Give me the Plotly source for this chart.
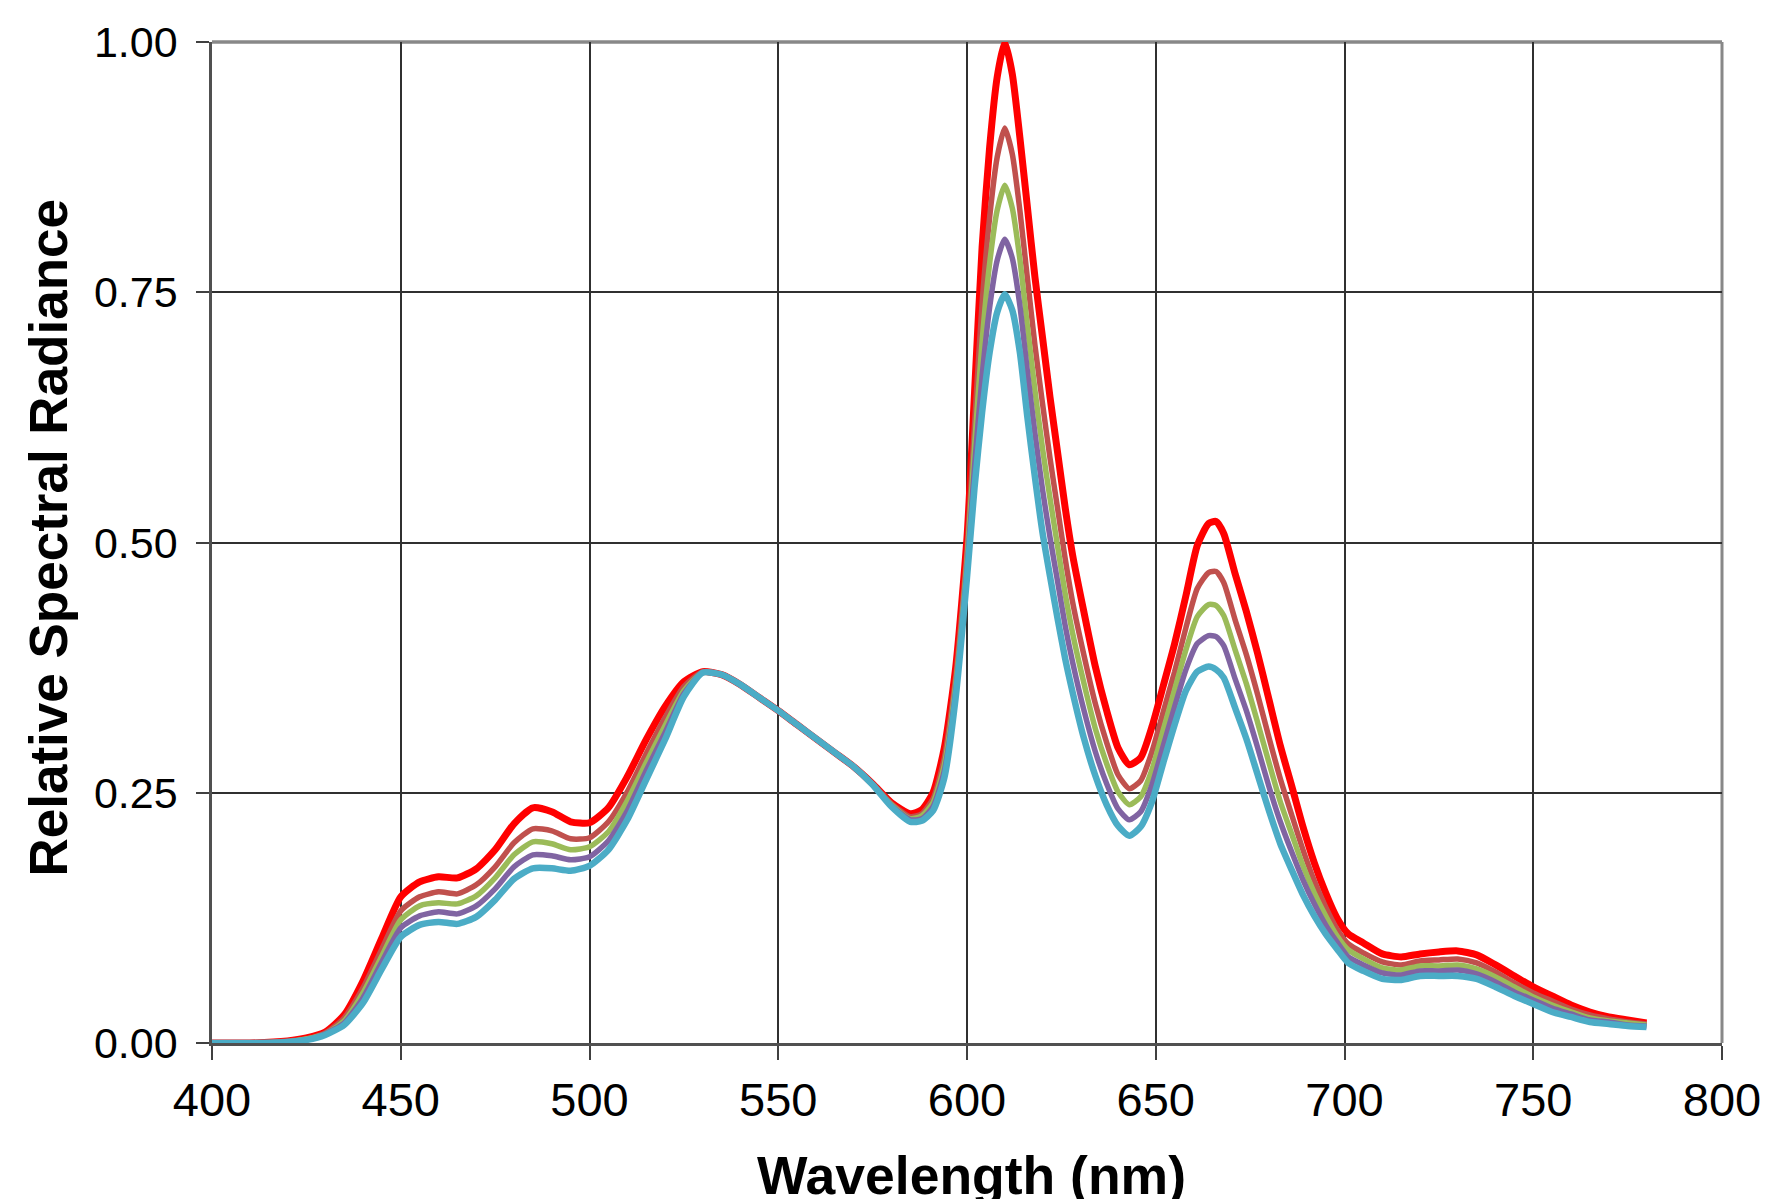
import plotly.graph_objects as go

wavelength = [400, 410, 420, 425, 430, 435, 440, 445, 450, 455, 460, 465, 470, 475, 480, 485, 490, 495,
              500, 505, 510, 515, 520, 525, 530, 535, 540, 545, 550, 555, 560, 565, 570, 575, 580, 585,
              588, 591, 594, 597, 600, 602, 604, 606, 608, 610, 612, 614, 616, 618, 620, 622, 624, 626,
              628, 631, 634, 637, 640, 643, 646, 649, 652, 655, 658, 661, 664, 666, 668, 671, 674, 677,
              680, 683, 686, 689, 692, 695, 698, 701, 705, 710, 715, 720, 725, 730, 735, 740, 745, 750,
              755, 760, 765, 770, 775, 780]

series_red = [0.000, 0.000, 0.002, 0.005, 0.011, 0.028, 0.062, 0.105, 0.146, 0.161, 0.166, 0.165, 0.174,
              0.193, 0.219, 0.235, 0.231, 0.221, 0.220, 0.235, 0.266, 0.303, 0.336, 0.361, 0.371, 0.368,
              0.358, 0.345, 0.332, 0.318, 0.304, 0.290, 0.276, 0.259, 0.240, 0.229, 0.233, 0.250, 0.295,
              0.375, 0.505, 0.650, 0.795, 0.895, 0.965, 1.000, 0.968, 0.905, 0.835, 0.765, 0.705, 0.645,
              0.590, 0.535, 0.487, 0.430, 0.376, 0.332, 0.295, 0.278, 0.285, 0.316, 0.357, 0.399, 0.447,
              0.497, 0.519, 0.521, 0.509, 0.469, 0.431, 0.389, 0.343, 0.297, 0.257, 0.216, 0.180, 0.150,
              0.125, 0.109, 0.100, 0.089, 0.086, 0.089, 0.091, 0.092, 0.088, 0.078, 0.067, 0.056, 0.047,
              0.038, 0.031, 0.026, 0.023, 0.020]

series_brown = [0.000, 0.000, 0.002, 0.004, 0.010, 0.025, 0.055, 0.094, 0.132, 0.146, 0.151, 0.149, 0.158,
                0.176, 0.200, 0.214, 0.212, 0.204, 0.205, 0.221, 0.251, 0.289, 0.325, 0.356, 0.371, 0.368,
                0.358, 0.345, 0.332, 0.318, 0.304, 0.290, 0.276, 0.259, 0.239, 0.226, 0.229, 0.244, 0.285,
                0.365, 0.491, 0.618, 0.739, 0.825, 0.885, 0.914, 0.888, 0.832, 0.764, 0.697, 0.639, 0.584,
                0.534, 0.484, 0.440, 0.387, 0.339, 0.300, 0.268, 0.254, 0.262, 0.291, 0.331, 0.371, 0.415,
                0.454, 0.470, 0.471, 0.460, 0.423, 0.388, 0.348, 0.305, 0.264, 0.228, 0.193, 0.162, 0.136,
                0.114, 0.099, 0.090, 0.081, 0.078, 0.082, 0.083, 0.084, 0.080, 0.071, 0.060, 0.050, 0.042,
                0.034, 0.028, 0.024, 0.021, 0.019]

series_green = [0.000, 0.000, 0.001, 0.004, 0.009, 0.022, 0.050, 0.087, 0.123, 0.137, 0.140, 0.139, 0.147,
                0.165, 0.188, 0.201, 0.199, 0.193, 0.196, 0.211, 0.242, 0.280, 0.317, 0.352, 0.370, 0.368,
                0.358, 0.345, 0.332, 0.318, 0.304, 0.290, 0.276, 0.258, 0.238, 0.224, 0.227, 0.240, 0.278,
                0.358, 0.482, 0.596, 0.701, 0.779, 0.832, 0.857, 0.834, 0.783, 0.716, 0.652, 0.594, 0.544,
                0.496, 0.449, 0.409, 0.359, 0.314, 0.279, 0.251, 0.238, 0.246, 0.273, 0.313, 0.353, 0.393,
                0.426, 0.438, 0.437, 0.427, 0.393, 0.359, 0.320, 0.280, 0.241, 0.209, 0.177, 0.150, 0.127,
                0.107, 0.093, 0.084, 0.075, 0.073, 0.077, 0.077, 0.078, 0.074, 0.066, 0.056, 0.046, 0.038,
                0.031, 0.025, 0.022, 0.020, 0.018]

series_purple = [0.000, 0.000, 0.001, 0.003, 0.009, 0.020, 0.045, 0.081, 0.115, 0.127, 0.131, 0.129, 0.137,
                 0.154, 0.176, 0.188, 0.187, 0.183, 0.186, 0.202, 0.232, 0.272, 0.310, 0.349, 0.370, 0.368,
                 0.358, 0.345, 0.332, 0.318, 0.304, 0.290, 0.276, 0.258, 0.237, 0.223, 0.224, 0.236, 0.272,
                 0.352, 0.474, 0.576, 0.666, 0.735, 0.782, 0.803, 0.784, 0.737, 0.671, 0.609, 0.553, 0.505,
                 0.461, 0.417, 0.380, 0.332, 0.291, 0.259, 0.234, 0.223, 0.231, 0.258, 0.297, 0.336, 0.373,
                 0.399, 0.407, 0.406, 0.397, 0.364, 0.332, 0.295, 0.256, 0.221, 0.191, 0.163, 0.139, 0.118,
                 0.101, 0.086, 0.078, 0.070, 0.068, 0.072, 0.072, 0.073, 0.069, 0.061, 0.051, 0.043, 0.035,
                 0.029, 0.023, 0.021, 0.018, 0.017]

series_cyan = [0.000, 0.000, 0.001, 0.003, 0.008, 0.018, 0.040, 0.074, 0.106, 0.118, 0.121, 0.119, 0.126,
               0.143, 0.164, 0.1745, 0.1745, 0.172, 0.177, 0.193, 0.223, 0.263, 0.303, 0.346, 0.370, 0.368,
               0.358, 0.345, 0.332, 0.318, 0.304, 0.290, 0.276, 0.258, 0.236, 0.221, 0.222, 0.232, 0.265,
               0.345, 0.465, 0.555, 0.630, 0.690, 0.730, 0.748, 0.732, 0.690, 0.625, 0.565, 0.510, 0.466,
               0.424, 0.384, 0.350, 0.304, 0.267, 0.238, 0.217, 0.207, 0.216, 0.241, 0.280, 0.318, 0.352,
               0.371, 0.376, 0.373, 0.365, 0.335, 0.304, 0.268, 0.232, 0.199, 0.173, 0.148, 0.127, 0.109,
               0.094, 0.080, 0.072, 0.064, 0.063, 0.067, 0.067, 0.067, 0.064, 0.056, 0.047, 0.039, 0.031,
               0.026, 0.021, 0.019, 0.017, 0.016]

y_ticks = [0.0, 0.25, 0.5, 0.75, 1.0]
x_ticks = [400, 450, 500, 550, 600, 650, 700, 750, 800]

series = [
    (series_red, "#FF0000", 7),
    (series_brown, "#C0504D", 5.5),
    (series_green, "#9BBB59", 5.5),
    (series_purple, "#8064A2", 5.5),
    (series_cyan, "#4BACC6", 6.5),
]

fig = go.Figure()
for vals, color, w in series:
    fig.add_trace(go.Scatter(x=wavelength, y=vals, mode="lines",
                             line=dict(color=color, width=w, shape="spline", smoothing=0.6),
                             showlegend=False, hoverinfo="skip"))

font_family = "Liberation Sans, Arial, sans-serif"

fig.update_layout(
    width=1769, height=1199,
    margin=dict(l=212, r=47, t=42, b=156, pad=0),
    paper_bgcolor="white", plot_bgcolor="white",
    font=dict(family=font_family, color="black"),
    xaxis=dict(range=[400, 800], tickvals=x_ticks, ticks="outside", ticklen=14, tickwidth=2,
               tickcolor="#404040", showgrid=True, gridcolor="#303030", gridwidth=1.5,
               showline=True, linecolor="#505050", linewidth=2.5, zeroline=False, automargin=False,
               tickfont=dict(size=47, family=font_family, color="black"), ticklabelstandoff=0),
    yaxis=dict(range=[0, 1.0], tickvals=y_ticks, tickformat=".2f", ticks="outside", ticklen=13,
               tickwidth=2, tickcolor="#404040", showgrid=True, gridcolor="#303030", gridwidth=1.5,
               showline=True, linecolor="#505050", linewidth=2.5, zeroline=False, automargin=False,
               tickfont=dict(size=43, family=font_family, color="black"), ticklabelstandoff=10),
    shapes=[
        dict(type="line", xref="paper", yref="paper", x0=0, x1=1, y0=1, y1=1,
             line=dict(color="#888888", width=3.5), layer="below"),
        dict(type="line", xref="paper", yref="paper", x0=1, x1=1, y0=0, y1=1,
             line=dict(color="#888888", width=3), layer="below"),
    ],
    annotations=[
        dict(text="Wavelength (nm)", xref="paper", yref="paper", x=0.503, y=-0.1006,
             xanchor="center", yanchor="top", showarrow=False,
             font=dict(size=53.5, family=font_family, color="black", weight="bold")),
        dict(text="Relative Spectral Radiance", xref="paper", yref="paper", x=-0.1086, y=0.505,
             xanchor="center", yanchor="middle", textangle=-90, showarrow=False,
             font=dict(size=53, family=font_family, color="black", weight="bold")),
    ],
)

fig.write_html("out.html")
